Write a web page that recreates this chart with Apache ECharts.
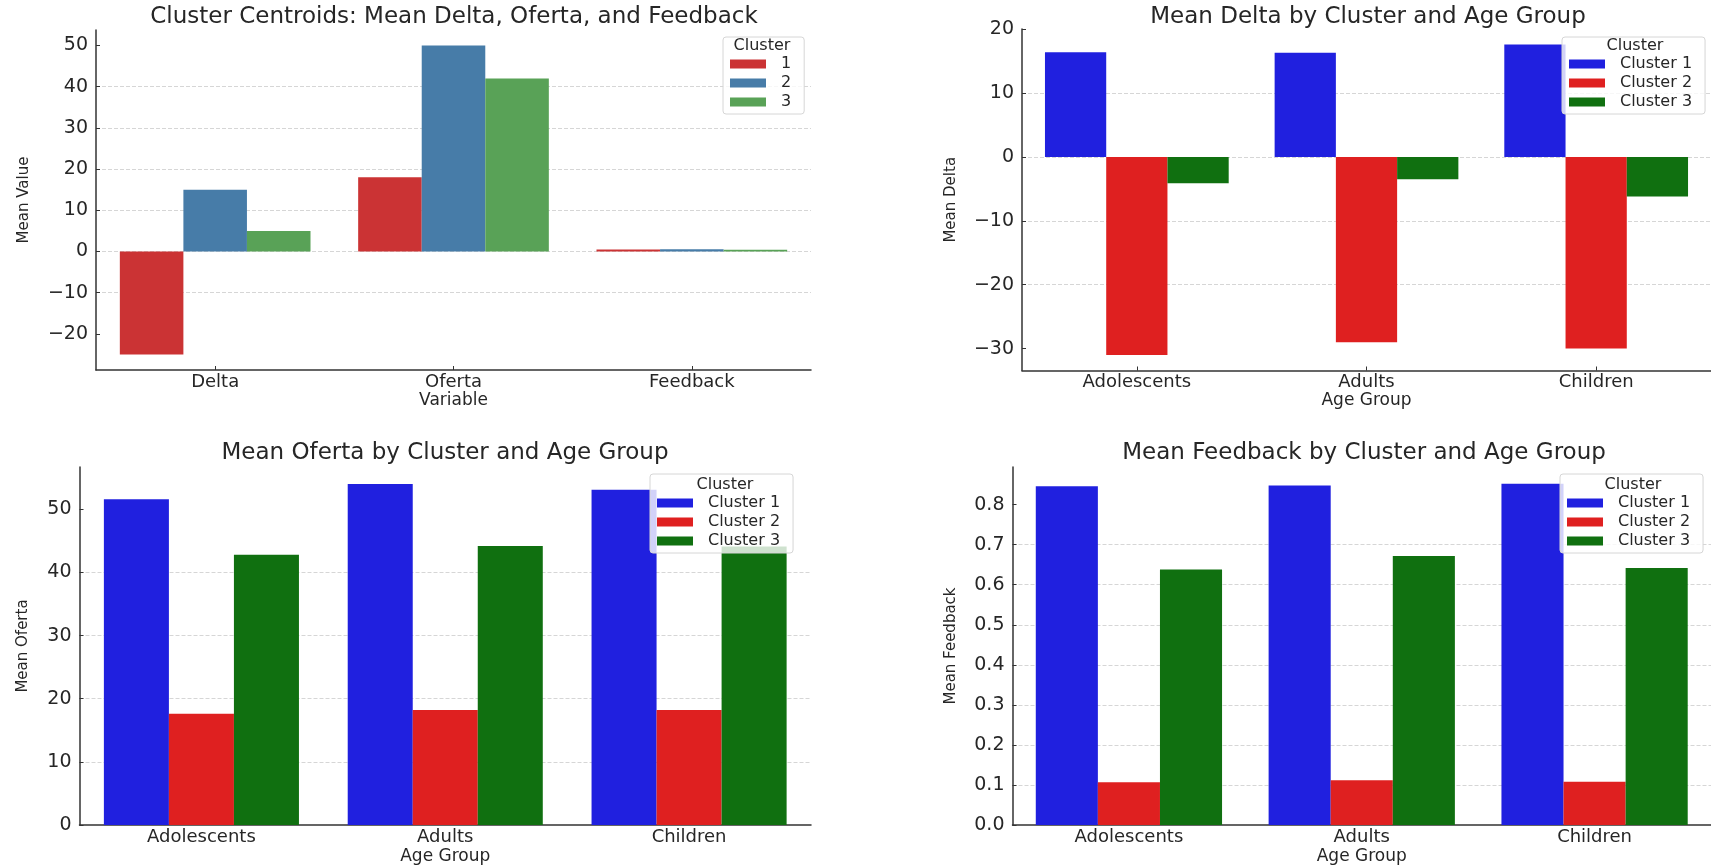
<!DOCTYPE html>
<html>
<head>
<meta charset="utf-8">
<script src="https://cdn.jsdelivr.net/npm/echarts@6/dist/echarts.min.js"></script>
<style>
html, body { margin: 0; padding: 0; background: #fff; }
#main { width: 1711px; height: 867px; }
</style>
</head>
<body>
<div id="main"></div>
<script>
// centroid chart (top left)
const variables = ['Delta', 'Oferta', 'Feedback'];
const centroid1 = [-25, 18, 0.5];
const centroid2 = [15, 50, 0.55];
const centroid3 = [5, 42, 0.45];
const centroidTicks = [-20, -10, 0, 10, 20, 30, 40, 50];

// per age group charts
const ageGroups = ['Adolescents', 'Adults', 'Children'];
const deltaC1 = [16.4, 16.3, 17.6];
const deltaC2 = [-31.0, -29.0, -30.0];
const deltaC3 = [-4.1, -3.5, -6.2];
const deltaTicks = [-30, -20, -10, 0, 10, 20];

const ofertaC1 = [51.6, 54.0, 53.1];
const ofertaC2 = [17.6, 18.2, 18.2];
const ofertaC3 = [42.8, 44.2, 44.1];
const ofertaTicks = [0, 10, 20, 30, 40, 50];

const feedbackC1 = [0.846, 0.848, 0.852];
const feedbackC2 = [0.107, 0.112, 0.108];
const feedbackC3 = [0.638, 0.672, 0.642];
const feedbackTicks = [0, 0.1, 0.2, 0.3, 0.4, 0.5, 0.6, 0.7, 0.8];

const FONT = 'DejaVu Sans';
const TXT = '#262626';
const setColors = ['#cb3334', '#477ca8', '#59a257'];
const ageColors = ['#2020df', '#df2020', '#107010'];

const minus = v => (v < 0 ? '\u2212' + Math.abs(v) : String(v));

function xAxis(idx, name, margin, gap) {
    return {
        type: 'category', gridIndex: idx, data: idx === 0 ? variables : ageGroups,
        name: name, nameLocation: 'middle', nameGap: gap,
        nameTextStyle: {fontFamily: FONT, fontSize: 17, color: TXT},
        axisLine: {show: true, onZero: false, lineStyle: {color: '#333', width: 1.5}},
        axisTick: {show: true, inside: true, alignWithLabel: true, length: 4, lineStyle: {color: '#333'}},
        axisLabel: {fontFamily: FONT, fontSize: 18, color: TXT, margin: margin},
        splitLine: {show: false}
    };
}

function yAxis(idx, min, max, step, ticks, name, gap, fmt) {
    return {
        type: 'value', gridIndex: idx, min: min, max: max,
        minInterval: step, maxInterval: step,
        name: name, nameLocation: 'middle', nameGap: gap, nameRotate: 90,
        nameTextStyle: {fontFamily: FONT, fontSize: 15, color: TXT},
        axisLine: {show: true, lineStyle: {color: '#333', width: 1.5}},
        axisTick: {show: true, inside: true, length: 4, customValues: ticks, lineStyle: {color: '#333'}},
        axisLabel: {fontFamily: FONT, fontSize: 19, color: TXT, margin: 8, customValues: ticks, formatter: fmt},
        splitLine: {
            show: true, showMinLine: false, showMaxLine: false,
            lineStyle: {color: '#d6d6d6', width: 1, type: [4, 2]}
        }
    };
}

function bars(name, idx, data, color) {
    return {
        type: 'bar', name: name, xAxisIndex: idx, yAxisIndex: idx, data: data,
        barGap: '0%', barCategoryGap: '20%',
        itemStyle: {color: color}
    };
}

function legend(names, left, top, padTop) {
    return {
        data: names, orient: 'vertical', left: left, top: top,
        padding: [padTop, 13, 4, 7], itemWidth: 36, itemHeight: 9, itemGap: 3,
        icon: 'rect', selectedMode: false,
        backgroundColor: 'rgba(255,255,255,0.8)', borderColor: '#d6d6d6',
        borderWidth: 1, borderRadius: 3,
        textStyle: {fontFamily: FONT, fontSize: 16, color: TXT, padding: [0, 0, 0, 10]}
    };
}

function label(text, x, y, size) {
    return {
        type: 'text', x: x, y: y, z: 20,
        style: {text: text, fill: TXT, font: size + 'px "' + FONT + '"', align: 'center', verticalAlign: 'middle'}
    };
}

const clusterNames = ['Cluster 1', 'Cluster 2', 'Cluster 3'];

const chart = echarts.init(document.getElementById('main'), null, {renderer: 'canvas'});
chart.setOption({
    animation: false,
    backgroundColor: '#fff',
    grid: [
        {left: 96, top: 30, width: 715, height: 340},
        {left: 1022, top: 29, width: 692, height: 341.5},
        {left: 79.5, top: 467, width: 731.5, height: 358},
        {left: 1012.5, top: 467, width: 704, height: 358}
    ],
    xAxis: [
        xAxis(0, 'Variable', 3, 21),
        xAxis(1, 'Age Group', 3, 21.5),
        xAxis(2, 'Age Group', 3, 23),
        xAxis(3, 'Age Group', 3, 23)
    ],
    yAxis: [
        yAxis(0, -28.75, 53.75, 10, centroidTicks, 'Mean Value', 64, minus),
        yAxis(1, -33.43, 20.03, 10, deltaTicks, 'Mean Delta', 63, minus),
        yAxis(2, 0, 56.7, 10, ofertaTicks, 'Mean Oferta', 49, minus),
        yAxis(3, 0, 0.894, 0.1, feedbackTicks, 'Mean Feedback', 54, v => v.toFixed(1))
    ],
    legend: [
        legend(['1', '2', '3'], 723, 37, 19),
        legend(clusterNames, 1562, 37, 19),
        legend(clusterNames, 650, 474, 21),
        legend(clusterNames, 1560, 474, 21)
    ],
    graphic: {
        z: 20,
        elements: [
            label('Cluster Centroids: Mean Delta, Oferta, and Feedback', 454, 17, 23),
            label('Mean Delta by Cluster and Age Group', 1368, 17, 23),
            label('Mean Oferta by Cluster and Age Group', 445, 453, 23),
            label('Mean Feedback by Cluster and Age Group', 1364, 453, 23),
            label('Cluster', 762, 46, 16),
            label('Cluster', 1635, 46, 16),
            label('Cluster', 725, 485, 16),
            label('Cluster', 1633, 485, 16)
        ]
    },
    series: [
        bars('1', 0, centroid1, setColors[0]),
        bars('2', 0, centroid2, setColors[1]),
        bars('3', 0, centroid3, setColors[2]),
        bars('Cluster 1', 1, deltaC1, ageColors[0]),
        bars('Cluster 2', 1, deltaC2, ageColors[1]),
        bars('Cluster 3', 1, deltaC3, ageColors[2]),
        bars('Cluster 1', 2, ofertaC1, ageColors[0]),
        bars('Cluster 2', 2, ofertaC2, ageColors[1]),
        bars('Cluster 3', 2, ofertaC3, ageColors[2]),
        bars('Cluster 1', 3, feedbackC1, ageColors[0]),
        bars('Cluster 2', 3, feedbackC2, ageColors[1]),
        bars('Cluster 3', 3, feedbackC3, ageColors[2])
    ]
});
</script>
</body>
</html>
